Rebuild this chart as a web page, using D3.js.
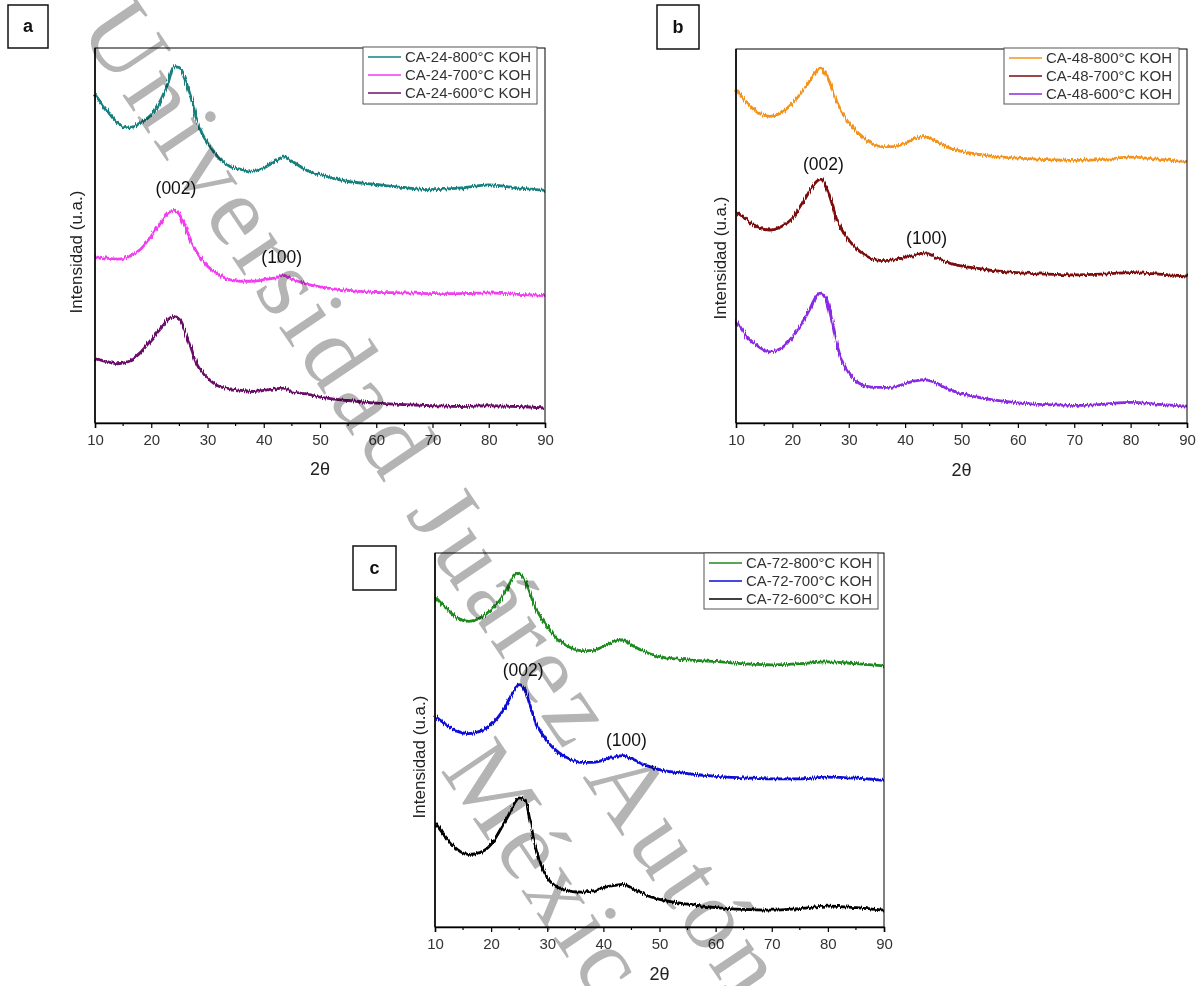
<!DOCTYPE html>
<html>
<head>
<meta charset="utf-8">
<script src="https://cdn.jsdelivr.net/npm/d3@7"></script>
<style>
body { margin: 0; background: #fff; }
svg { display: block; font-family: "Liberation Sans", Arial, sans-serif; }
</style>
</head>
<body>
<svg id="chart" width="1201" height="986"></svg>
<script>
// 2-theta grid the curves were read at
var twoTheta = [10, 12, 14, 16, 18, 20, 22, 23, 24, 25, 26, 27, 28, 29, 30, 32, 34, 36, 38, 40, 42, 43.5, 45, 48, 50, 55, 60, 65, 70, 75, 80, 85, 90];

// intensities (a.u., stacked offsets as in the figure)
var ca24_800 = [87.6, 83.6, 80, 78.7, 80, 82.2, 87.1, 90.7, 95, 94.8, 91.6, 87.1, 81.3, 77.3, 74.7, 70.7, 68.4, 67.6, 67.1, 68, 69.8, 70.9, 69.8, 67.1, 66.2, 64.4, 63.6, 62.8, 62.2, 62.7, 63.5, 62.7, 62];
var ca24_700 = [44.4, 44, 43.7, 44.4, 46.2, 49.8, 54.2, 56, 56.7, 55.6, 52.4, 48.9, 45.8, 43.6, 41.8, 39.6, 38.2, 37.8, 37.8, 38.2, 38.7, 39.3, 38.4, 36.9, 36.3, 35.4, 34.8, 34.7, 34.5, 34.5, 34.7, 34.3, 34];
var ca24_600 = [17.1, 16.4, 15.8, 16.4, 18.7, 22.2, 25.8, 27.6, 28.4, 27.6, 24.4, 20.4, 16, 13.6, 12, 9.8, 9.1, 8.7, 8.4, 8.7, 9.1, 9.3, 8.4, 7.6, 6.9, 6, 5.3, 4.9, 4.6, 4.4, 4.6, 4.4, 4];

var ca48_800 = [89.1, 85.5, 82.9, 82, 82.9, 85.5, 89.1, 91.3, 93.6, 94.9, 93.1, 89.6, 85.5, 82.6, 80.2, 77.1, 74.8, 73.9, 73.9, 74.8, 76.2, 76.6, 75.7, 73.5, 72.6, 71.4, 70.8, 70.4, 70.2, 70.4, 71.1, 70.5, 69.9];
var ca48_700 = [56.5, 54.3, 52.1, 51.6, 52.5, 54.7, 59.2, 61.9, 64.1, 65.2, 63.2, 58.8, 53.8, 51.1, 48.9, 45.8, 44, 43.4, 43.6, 44.3, 44.9, 45.5, 44.6, 42.7, 42, 40.9, 40.2, 39.8, 39.6, 39.8, 40.2, 39.8, 39.3];
var ca48_600 = [27.5, 23, 20.4, 19, 19.9, 23, 27.5, 30.2, 33.3, 34.8, 33.3, 27.5, 20.4, 15.9, 13.2, 10.5, 9.6, 9.5, 9.6, 10.5, 11.3, 11.6, 11, 8.8, 7.9, 6.3, 5.4, 4.9, 4.7, 5, 5.5, 5, 4.5];

var ca72_800 = [88.3, 85.2, 82.6, 81.7, 82.6, 84.8, 88.3, 91, 93.7, 94.6, 92.8, 88.8, 85.2, 82.5, 80.3, 76.8, 74.8, 73.9, 73.9, 75, 76.3, 76.8, 75.4, 73.2, 72.3, 71.4, 71, 70.4, 70.1, 70.4, 70.9, 70.4, 69.8];
var ca72_700 = [56.3, 54.1, 52.3, 51.7, 52.3, 54.1, 57.6, 60.3, 63, 64.8, 63.4, 59, 54.5, 51.8, 49.6, 46.7, 44.9, 44, 44, 44.6, 45.5, 45.8, 44.9, 43, 42.1, 41, 40.3, 39.9, 39.6, 39.6, 40.1, 39.8, 39.2];
var ca72_600 = [27.9, 23.9, 20.7, 19.4, 19.9, 22.1, 27, 29.6, 32.7, 34.5, 33.9, 27.9, 20.7, 16.3, 13.2, 10.5, 9.6, 9.3, 9.6, 10.5, 11.1, 11.4, 10.5, 8.3, 7.4, 6.1, 5.2, 4.7, 4.5, 4.9, 5.6, 5.2, 4.5];

var legend24 = ["CA-24-800°C KOH", "CA-24-700°C KOH", "CA-24-600°C KOH"];
var legend48 = ["CA-48-800°C KOH", "CA-48-700°C KOH", "CA-48-600°C KOH"];
var legend72 = ["CA-72-800°C KOH", "CA-72-700°C KOH", "CA-72-600°C KOH"];

var xTicks = [10, 20, 30, 40, 50, 60, 70, 80, 90];
var xMinor = [15, 25, 35, 45, 55, 65, 75, 85];

// peak labels: [2theta, intensity, text]
var peaks24 = [[24.4, 62.4, "(002)"], [43.2, 44, "(100)"]];
var peaks48 = [[25.5, 69, "(002)"], [43.8, 49.2, "(100)"]];
var peaks72 = [[25.7, 68.3, "(002)"], [44.1, 49.6, "(100)"]];

var panels = [
	{ tag: "a", names: legend24, values: [ca24_800, ca24_700, ca24_600], peaks: peaks24,
	  colors: ["#17807f", "#f23cf0", "#6b1169"],
	  x0: 95, x1: 545, y0: 48, y1: 423,
	  box: { x: 8, y: 5, w: 40, h: 43 }, legend: { x: 363, y: 47, w: 174, h: 57 },
	  ylab: { x: 78, y: 252 }, xlabY: 470 },
	{ tag: "b", names: legend48, values: [ca48_800, ca48_700, ca48_600], peaks: peaks48,
	  colors: ["#f3931f", "#7d0b0b", "#8a2be2"],
	  x0: 736, x1: 1187, y0: 49, y1: 423,
	  box: { x: 657, y: 5, w: 42, h: 44 }, legend: { x: 1004, y: 48, w: 175, h: 56 },
	  ylab: { x: 722, y: 258 }, xlabY: 471 },
	{ tag: "c", names: legend72, values: [ca72_800, ca72_700, ca72_600], peaks: peaks72,
	  colors: ["#1f8a1f", "#0b0bd8", "#000000"],
	  x0: 435, x1: 884, y0: 553, y1: 927,
	  box: { x: 353, y: 546, w: 43, h: 44 }, legend: { x: 704, y: 553, w: 174, h: 56 },
	  ylab: { x: 421, y: 757 }, xlabY: 975 }
];

var svg = d3.select("#chart");

// slight jitter so the traces look like raw diffractograms
var defs = svg.append("defs");
var filt = defs.append("filter").attr("id", "jitter")
	.attr("x", "-2%").attr("y", "-20%").attr("width", "104%").attr("height", "140%");
filt.append("feTurbulence").attr("type", "fractalNoise")
	.attr("baseFrequency", "0.9 0.06").attr("numOctaves", 1).attr("seed", 4).attr("result", "n");
filt.append("feDisplacementMap").attr("in", "SourceGraphic").attr("in2", "n")
	.attr("scale", 5).attr("xChannelSelector", "G").attr("yChannelSelector", "R");

function drawPanel(p) {
	var x = d3.scaleLinear().domain([10, 90]).range([p.x0, p.x1]);
	var y = d3.scaleLinear().domain([0, 100]).range([p.y1, p.y0]);
	var g = svg.append("g");

	var line = d3.line()
		.x(function(d, i) { return x(twoTheta[i]); })
		.y(function(d) { return y(d); })
		.curve(d3.curveMonotoneX);

	p.values.forEach(function(vals, k) {
		g.append("path")
			.attr("d", line(vals))
			.attr("fill", "none")
			.attr("stroke", p.colors[k])
			.attr("stroke-width", 2.8)
			.attr("filter", "url(#jitter)");
	});

	// frame
	g.append("rect")
		.attr("x", p.x0).attr("y", p.y0)
		.attr("width", p.x1 - p.x0).attr("height", p.y1 - p.y0)
		.attr("fill", "none").attr("stroke", "#000").attr("stroke-width", 1);
	g.append("line")
		.attr("x1", p.x0).attr("x2", p.x0).attr("y1", p.y0).attr("y2", p.y1)
		.attr("stroke", "#000").attr("stroke-width", 1.5);

	var ax = g.append("g")
		.attr("transform", "translate(0," + p.y1 + ")")
		.call(d3.axisBottom(x).tickValues(xTicks).tickSize(5).tickPadding(6).tickFormat(d3.format("d")));
	ax.select(".domain").attr("stroke-width", 1.5);
	ax.selectAll("text").attr("font-size", 15).attr("fill", "#333")
		.attr("font-family", "'Liberation Sans', Arial, sans-serif");
	ax.selectAll("line").attr("stroke-width", 1.2);

	g.selectAll(".minor").data(xMinor).enter().append("line")
		.attr("x1", function(d) { return x(d); }).attr("x2", function(d) { return x(d); })
		.attr("y1", p.y1).attr("y2", p.y1 + 3)
		.attr("stroke", "#000").attr("stroke-width", 1.2);

	g.append("text")
		.attr("x", (p.x0 + p.x1) / 2).attr("y", p.xlabY)
		.attr("text-anchor", "middle").attr("dominant-baseline", "middle")
		.attr("font-size", 18).attr("fill", "#222")
		.text("2θ");

	g.append("text")
		.attr("transform", "translate(" + p.ylab.x + "," + p.ylab.y + ") rotate(-90)")
		.attr("text-anchor", "middle").attr("dominant-baseline", "middle")
		.attr("font-size", 17).attr("fill", "#222")
		.text("Intensidad (u.a.)");

	// peak labels
	g.selectAll(".peak").data(p.peaks).enter().append("text")
		.attr("x", function(d) { return x(d[0]); })
		.attr("y", function(d) { return y(d[1]); })
		.attr("text-anchor", "middle").attr("dominant-baseline", "middle")
		.attr("font-size", 17.5).attr("fill", "#111")
		.text(function(d) { return d[2]; });

	// legend
	var L = p.legend;
	g.append("rect")
		.attr("x", L.x).attr("y", L.y).attr("width", L.w).attr("height", L.h)
		.attr("fill", "#fff").attr("stroke", "#555").attr("stroke-width", 1);
	p.names.forEach(function(name, k) {
		var ry = L.y + 10 + k * 18;
		g.append("line")
			.attr("x1", L.x + 5).attr("x2", L.x + 38)
			.attr("y1", ry).attr("y2", ry)
			.attr("stroke", p.colors[k]).attr("stroke-width", 1.3);
		g.append("text")
			.attr("x", L.x + 42).attr("y", ry + 1)
			.attr("dominant-baseline", "middle")
			.attr("font-size", 15).attr("fill", "#333")
			.text(name);
	});

	// panel tag
	g.append("rect")
		.attr("x", p.box.x).attr("y", p.box.y).attr("width", p.box.w).attr("height", p.box.h)
		.attr("fill", "#fff").attr("stroke", "#111").attr("stroke-width", 1.5);
	g.append("text")
		.attr("x", p.box.x + p.box.w / 2).attr("y", p.box.y + p.box.h / 2 + 1)
		.attr("text-anchor", "middle").attr("dominant-baseline", "middle")
		.attr("font-size", 18).attr("font-weight", "bold").attr("fill", "#111")
		.text(p.tag);
}

panels.forEach(drawPanel);

// watermark across the page
var wm = svg.append("g")
	.attr("transform", "translate(77.5,28.6) rotate(56)")
	.style("mix-blend-mode", "multiply")
	.attr("font-family", "'Liberation Serif', 'Times New Roman', serif")
	.attr("font-size", 100)
	.attr("letter-spacing", 6)
	.attr("fill", "#b4b4b4");
wm.append("text").attr("x", 0).attr("y", 0).text("Universidad Juárez Autónoma de Tabasco");
wm.append("text").attr("x", 817).attr("y", 114).text("México");
</script>
</body>
</html>
